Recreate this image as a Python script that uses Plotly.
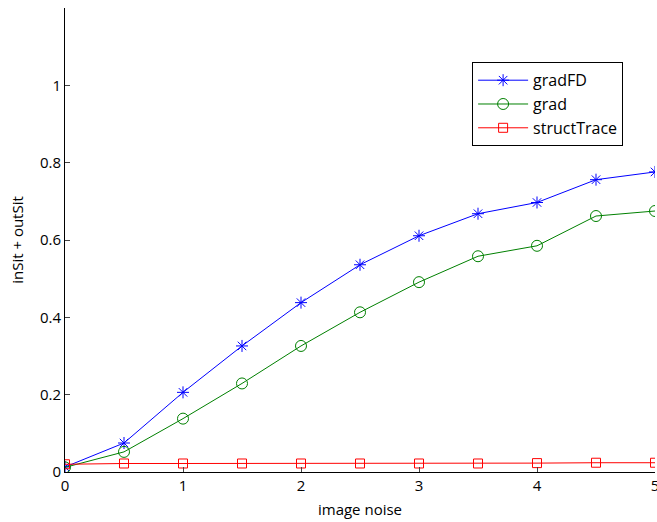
import plotly.graph_objects as go

x_noise = [0, 0.5, 1, 1.5, 2, 2.5, 3, 3.5, 4, 4.5, 5]
gradFD = [0.013, 0.075, 0.206, 0.326, 0.438, 0.536, 0.611, 0.668, 0.697, 0.756, 0.776]
grad = [0.012, 0.052, 0.138, 0.229, 0.326, 0.413, 0.491, 0.558, 0.585, 0.662, 0.675]
structTrace = [0.02, 0.022, 0.022, 0.022, 0.022, 0.022, 0.022, 0.022, 0.023, 0.024, 0.024]

x_ticks = [0, 1, 2, 3, 4, 5]
y_ticks = [0, 0.2, 0.4, 0.6, 0.8, 1]
y_tick_text = ["0", "0.2", "0.4", "0.6", "0.8", "1"]

fig = go.Figure()
fig.add_trace(go.Scatter(x=x_noise, y=gradFD, name="gradFD", mode="lines+markers",
                         line=dict(color="#0000ff", width=1),
                         marker=dict(symbol="asterisk-open", size=10, line=dict(color="#0000ff", width=1))))
fig.add_trace(go.Scatter(x=x_noise, y=grad, name="grad", mode="lines+markers",
                         line=dict(color="#008000", width=1),
                         marker=dict(symbol="circle-open", size=11, color="#008000", line=dict(color="#008000", width=1))))
fig.add_trace(go.Scatter(x=x_noise, y=structTrace, name="structTrace", mode="lines+markers",
                         line=dict(color="#ff0000", width=1),
                         marker=dict(symbol="square-open", size=9, color="#ff0000", line=dict(color="#ff0000", width=1))))

font = "Open Sans, DejaVu Sans, sans-serif"
fig.update_layout(
    width=657, height=522,
    margin=dict(l=65, r=2, t=8, b=50),
    paper_bgcolor="white", plot_bgcolor="white",
    font=dict(family=font, size=15, color="black"),
    showlegend=True,
    legend=dict(x=0.69, y=0.883, xanchor="left", yanchor="top",
                bordercolor="black", borderwidth=1, bgcolor="white",
                font=dict(size=16), tracegroupgap=0, itemwidth=50),
    xaxis=dict(range=[0, 5], tickvals=x_ticks, ticks="inside", ticklen=5,
               showline=True, linecolor="black", linewidth=1, showgrid=False, zeroline=False,
               ticklabeloverflow="allow", automargin=False,
               title=dict(text="image noise", font=dict(size=15), standoff=10),
               tickfont=dict(size=15)),
    yaxis=dict(range=[0, 1.2], tickvals=y_ticks, ticktext=y_tick_text, ticks="inside", ticklen=5,
               showline=True, linecolor="black", linewidth=1, showgrid=False, zeroline=False,
               automargin=False,
               title=dict(text="inSit + outSit", font=dict(size=15), standoff=12),
               tickfont=dict(size=15)),
)
fig.write_html("out.html")
